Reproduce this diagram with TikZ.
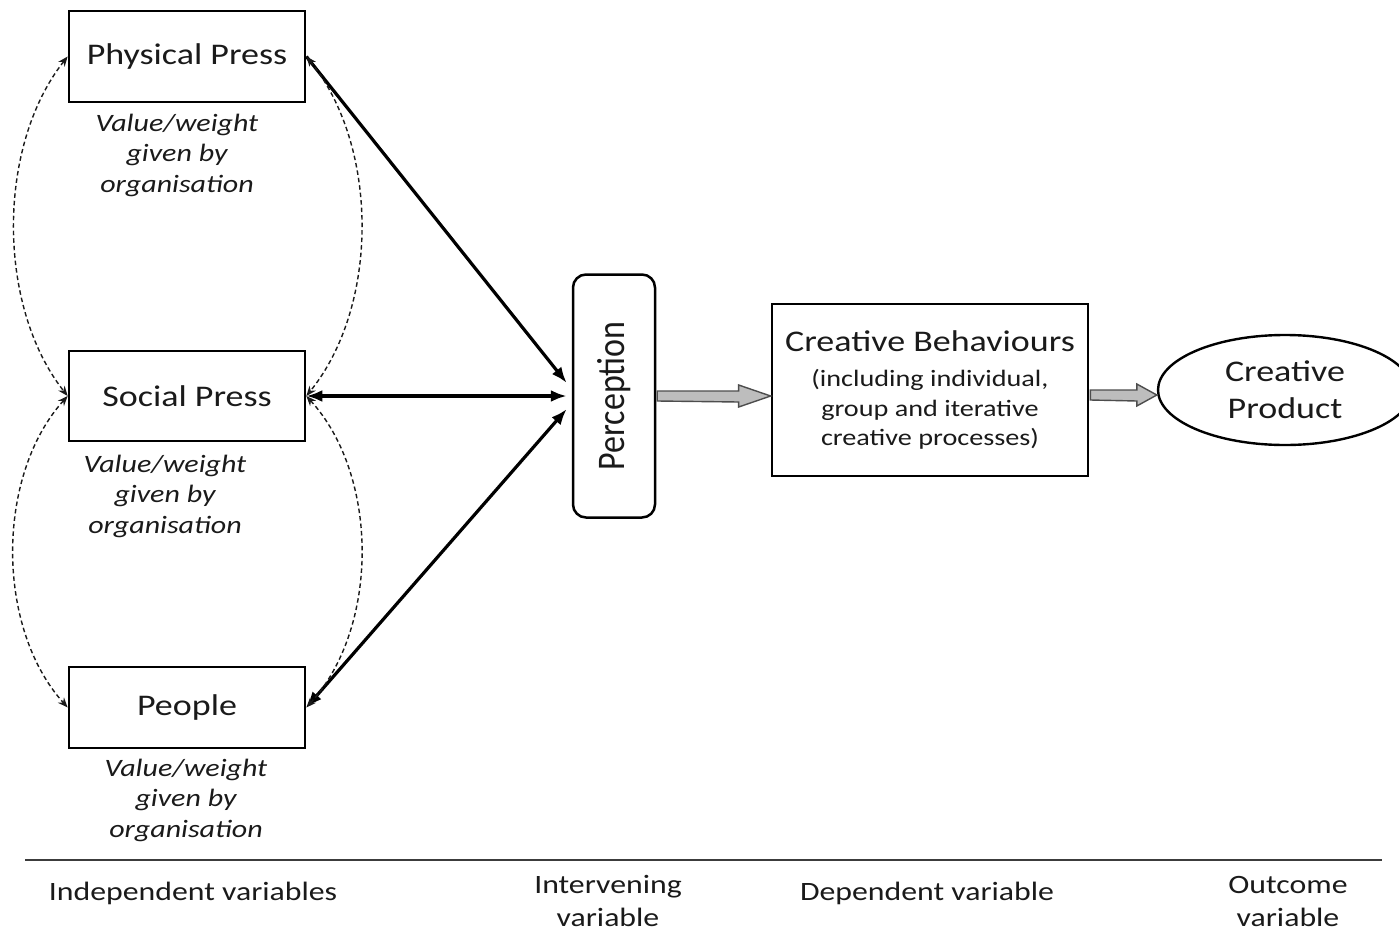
\documentclass[tikz,border=0pt]{standalone}
\usepackage{fontspec}
\setmainfont{Carlito}[FakeStretch=1.2]
\newfontfamily\uprightfont{Carlito}
\usetikzlibrary{calc,arrows.meta,shapes.geometric}
\definecolor{ink}{HTML}{1A1A1A}
\definecolor{arrowfill}{HTML}{BDBDBD}
\definecolor{arrowline}{HTML}{4D4D4D}
\begin{document}
\begin{tikzpicture}[x=1pt,y=-1pt,
  every node/.style={text=ink},
  pressbox/.style={draw=black, line width=2.7pt, minimum width=236pt, inner sep=0pt, font=\fontsize{30}{32}\selectfont},
  note/.style={align=center, font=\itshape\fontsize{25}{30.5}\selectfont},
  solid link/.style={line width=3.2pt, -{Latex[length=16pt,width=12pt]}},
  two way/.style={line width=3.2pt, {Latex[length=16pt,width=12pt]}-{Latex[length=16pt,width=12pt]}},
  loop link/.style={line width=1.4pt, draw=ink, dash pattern=on 4.5pt off 3pt, {Stealth[length=10pt,width=8pt]}-{Stealth[length=10pt,width=8pt]}},
  block arrow/.style={draw=arrowline, fill=arrowfill, line width=1.4pt, line join=miter},
  axis label/.style={align=center, font=\fontsize{26.5}{33}\selectfont}
]
\useasboundingbox (0,0) rectangle (1399,934);

% independent variables
\node[pressbox, minimum height=91pt] (pp) at (187,56.5) {Physical Press};
\node[pressbox, minimum height=90pt] (sp) at (187,396) {Social Press};
\node[pressbox, minimum height=81pt] (pe) at (187,707.5) {People};

\node[note] (ppn) at (177,155) {Value/weight\\given by\\organisation};
\node[note] (spn) at (165,496) {Value/weight\\given by\\organisation};
\node[note] (pen) at (186,800) {Value/weight\\given by\\organisation};

% intervening, dependent and outcome variables
\node[draw, line width=2.5pt, rounded corners=13pt, minimum width=82pt, minimum height=243pt, inner sep=0pt] (perc) at (614,396)
  {\rotatebox{90}{\scalebox{1}[1.15]{\uprightfont\fontsize{34}{36}\selectfont Perception}}};

\node[draw, line width=2.7pt, minimum width=316pt, minimum height=172pt, inner sep=0pt, align=center,
  font=\fontsize{23.5}{29.5}\selectfont] (cb) at (930,390)
  {{\fontsize{30}{30}\selectfont Creative Behaviours}\\[6pt] (including individual,\\ group and iterative\\ creative processes)};

\node[ellipse, draw, line width=2.4pt, minimum width=254pt, minimum height=110pt, inner sep=0pt, align=center,
  font=\fontsize{30}{37}\selectfont] (cp) at (1285,390) {Creative\\Product};

% links into perception
\coordinate (in-top) at ($(perc.west)+(-5,-13)$);
\coordinate (in-mid) at ($(perc.west)+(-5,0)$);
\coordinate (in-low) at ($(perc.west)+(-5,13)$);
\draw[solid link] (pp.east) -- (in-top);
\draw[two way] (sp.east) -- (in-mid);
\draw[two way] (pe.east) -- (in-low);

% dashed links between the independent variables
\draw[loop link] (pp.west) .. controls +(-71,90) and +(-71,-90) .. (sp.west);
\draw[loop link] (sp.west) .. controls +(-72,80) and +(-72,-80) .. (pe.west);
\draw[loop link] (pp.east) .. controls +(73,90) and +(73,-90) .. (sp.east);
\draw[loop link] (sp.east) .. controls +(73,80) and +(73,-80) .. (pe.east);

% block arrows
\coordinate (tip1) at (cb.west |- perc.east);
\draw[block arrow] ($(perc.east)+(1,-5)$) -- ($(tip1)+(-32,-5)$) -- ++(0,-6) -- (tip1)
  -- ++(-32,11) -- ++(0,-5) -- ($(perc.east)+(1,5)$) -- cycle;
\coordinate (tip2) at ($(cp.west)+(0,5)$);
\draw[block arrow] ($(cb.east |- tip2)+(1,-5)$) -- ($(tip2)+(-20,-5)$) -- ++(0,-6) -- (tip2)
  -- ++(-20,11) -- ++(0,-5) -- ($(cb.east |- tip2)+(1,5)$) -- cycle;

% variable classes
\coordinate (rule-l) at (25,860);
\coordinate (rule-r) at (1382,860);
\draw[line width=1.5pt, draw=ink!85] (rule-l) -- (rule-r);
\node[axis label] (iv) at (193,893) {Independent variables};
\node[axis label] (inv) at (608,901) {Intervening\\variable};
\node[axis label] (dv) at (927,893) {Dependent variable};
\node[axis label] (ov) at (1288,901) {Outcome\\variable};
\end{tikzpicture}
\end{document}
